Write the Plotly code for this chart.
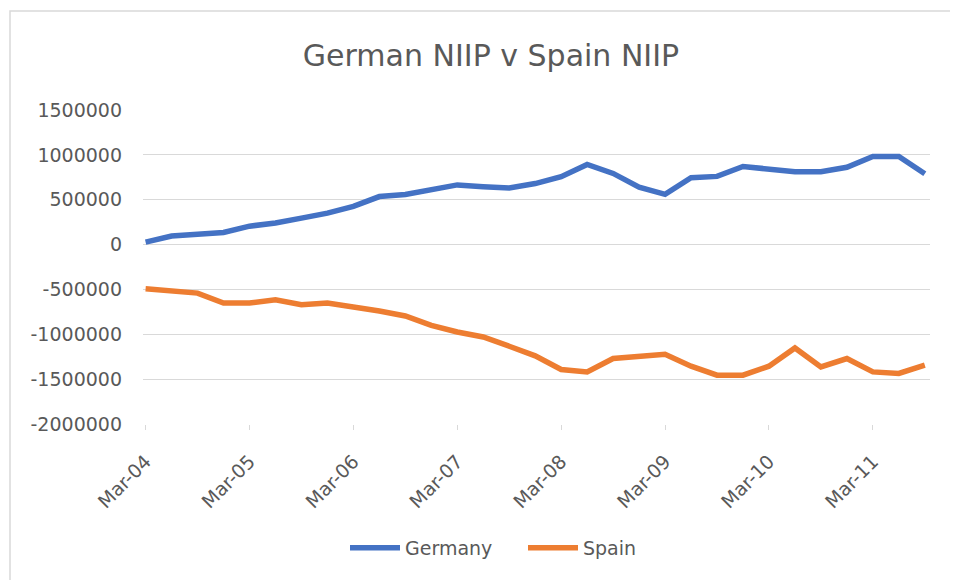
import plotly.graph_objects as go

# quarterly observations, Mar-04 .. Sep-11
quarters = [
    "Mar-04", "Jun-04", "Sep-04", "Dec-04",
    "Mar-05", "Jun-05", "Sep-05", "Dec-05",
    "Mar-06", "Jun-06", "Sep-06", "Dec-06",
    "Mar-07", "Jun-07", "Sep-07", "Dec-07",
    "Mar-08", "Jun-08", "Sep-08", "Dec-08",
    "Mar-09", "Jun-09", "Sep-09", "Dec-09",
    "Mar-10", "Jun-10", "Sep-10", "Dec-10",
    "Mar-11", "Jun-11", "Sep-11",
]

germany = [
    28000, 95000, 115000, 135000,
    205000, 240000, 295000, 350000,
    425000, 535000, 558000, 612000,
    665000, 645000, 630000, 680000,
    756000, 893000, 793000, 640000,
    560000, 745000, 760000, 870000,
    848000, 812000, 812000, 862000,
    982000, 982000, 790000,
]

spain = [
    -493000, -511000, -541000, -652000,
    -652000, -615000, -670000, -652000,
    -689000, -741000, -796000, -900000,
    -974000, -1030000, -1133000, -1240000,
    -1393000, -1419000, -1270000, -1241000,
    -1222000, -1356000, -1456000, -1456000,
    -1356000, -1152000, -1363000, -1270000,
    -1419000, -1437000, -1344000,
]

tick_labels = quarters[::4]
y_ticks = [1500000, 1000000, 500000, 0, -500000, -1000000, -1500000, -2000000]

GREY = "#595959"
FONT = "DejaVu Sans"
PAGE_OFFSET = 8  # the html body margin shifts the figure by 8px

fig = go.Figure()
fig.add_trace(go.Scatter(x=quarters, y=germany, mode="lines", name="Germany",
                         line=dict(color="#4472C4", width=5.5)))
fig.add_trace(go.Scatter(x=quarters, y=spain, mode="lines", name="Spain",
                         line=dict(color="#ED7D31", width=5.5)))

# light chart border (top and left edge visible in the reference)
fig.add_shape(type="rect", xref="paper", yref="paper",
              x0=-0.169, x1=1.08, y0=-0.6, y1=1.315,
              line=dict(color="#d9d9d9", width=1.5), layer="below")

fig.update_layout(
    width=958, height=580,
    paper_bgcolor="white", plot_bgcolor="white",
    margin=dict(l=143 - PAGE_OFFSET, r=28 + PAGE_OFFSET,
                t=110 - PAGE_OFFSET, b=156 + PAGE_OFFSET),
    font=dict(family=FONT, color=GREY, size=19),
    title=dict(text="German NIIP v Spain NIIP",
               x=(491 - PAGE_OFFSET) / 958, xanchor="center",
               y=1 - (55 - PAGE_OFFSET) / 580, yanchor="middle",
               font=dict(family=FONT, size=30, color=GREY)),
    legend=dict(orientation="h", xref="container", yref="container",
                x=(523 - PAGE_OFFSET) / 958, xanchor="center",
                y=1 - (548 - PAGE_OFFSET) / 580, yanchor="middle",
                font=dict(family=FONT, size=19, color=GREY),
                itemwidth=50, entrywidth=113),
    showlegend=True,
)

fig.update_xaxes(
    type="category", range=[-0.1, 30.2],
    tickmode="array", tickvals=tick_labels, ticktext=tick_labels,
    tickangle=-45, ticks="outside", ticklen=5, tickcolor="#d9d9d9",
    showgrid=False, showline=False, zeroline=False,
    ticklabelstandoff=13,
    tickfont=dict(family=FONT, size=19, color=GREY),
)
fig.update_yaxes(
    range=[-2000000, 1500000],
    tickmode="array", tickvals=y_ticks, ticktext=[str(v) for v in y_ticks],
    showgrid=True, gridcolor="#d9d9d9", gridwidth=1,
    zeroline=False, showline=False, ticks="",
    ticklabelstandoff=20,
    tickfont=dict(family=FONT, size=19, color=GREY),
)

fig.write_html("out.html")
